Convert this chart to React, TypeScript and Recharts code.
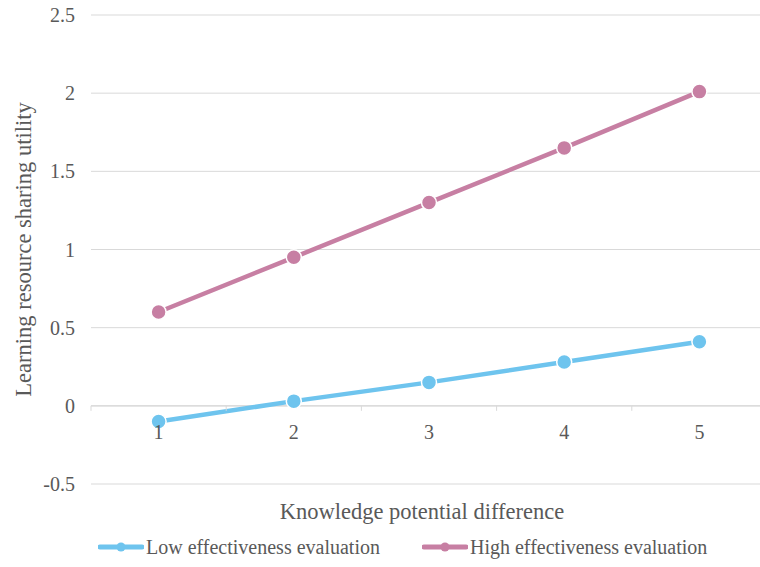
import React from "react";
import { LineChart, Line, XAxis, YAxis, CartesianGrid, Legend, ReferenceLine } from "recharts";

const categories = ["1", "2", "3", "4", "5"];
const lowValues = [-0.1, 0.03, 0.15, 0.28, 0.41];
const highValues = [0.6, 0.95, 1.3, 1.65, 2.01];
const yTicks = [-0.5, 0, 0.5, 1, 1.5, 2, 2.5];
const seriesNames = ["Low effectiveness evaluation", "High effectiveness evaluation"];
const xTitle = "Knowledge potential difference";
const yTitle = "Learning resource sharing utility";

const data = categories.map((c, i) => ({ cat: c, low: lowValues[i], high: highValues[i] }));

const BLUE = "#6EC4EE";
const PINK = "#C77FA3";
const TEXT = "#595959";
const GRID = "#D9D9D9";
const FONT = "'Liberation Serif', 'Times New Roman', serif";

const CHART_W = 780;
const CHART_H = 567;
const MARGIN = { top: 15, right: 13, left: 0, bottom: 0 };
const Y_W = 91;
const X_H = 43;
const LEG_H = 40;
const PLOT_H = CHART_H - MARGIN.top - X_H - LEG_H;
const PLOT_W = CHART_W - MARGIN.left - MARGIN.right - Y_W;
const Y_MIN = -0.5;
const Y_MAX = 2.5;
const BAND = PLOT_W / categories.length;
// distance from plot bottom up to the value 0
const ZERO_UP = (PLOT_H * (0 - Y_MIN)) / (Y_MAX - Y_MIN);

const XTick = (props: any) => {
  const { x, y, payload, index } = props;
  const y0 = y - ZERO_UP;
  return (
    <g>
      <line x1={x - BAND / 2} x2={x - BAND / 2} y1={y0} y2={y0 + 5} stroke={GRID} strokeWidth={1} />
      {index === categories.length - 1 && (
        <line x1={x + BAND / 2} x2={x + BAND / 2} y1={y0} y2={y0 + 5} stroke={GRID} strokeWidth={1} />
      )}
      <text x={x} y={y0 + 26} textAnchor="middle" dominantBaseline="central" fill={TEXT} fontSize={20} fontFamily={FONT}>
        {payload.value}
      </text>
    </g>
  );
};

const LegendIcon = ({ color }: { color: string }) => (
  <svg width={46} height={14} style={{ display: "block" }}>
    <line x1={2} x2={44} y1={7} y2={7} stroke={color} strokeWidth={5} strokeLinecap="round" />
    <circle cx={23} cy={7} r={4.5} fill={color} />
  </svg>
);

const LegendContent = () => {
  const colors = [BLUE, PINK];
  return (
    <div style={{ display: "flex", alignItems: "center", height: LEG_H, fontFamily: FONT, fontSize: 20, color: TEXT }}>
      {seriesNames.map((n, i) => (
        <div key={n} style={{ display: "flex", alignItems: "center", marginRight: 42 }}>
          <LegendIcon color={colors[i]} />
          <span style={{ marginLeft: 2, whiteSpace: "nowrap" }}>{n}</span>
        </div>
      ))}
    </div>
  );
};

const dot = (color: string) => ({ r: 7.5, fill: color, stroke: "#FFFFFF", strokeWidth: 1.5 });

export default function App() {
  return (
    <div style={{ position: "absolute", left: 0, top: 0, width: 760, height: 567, overflow: "hidden", background: "#fff" }}>
      <LineChart width={CHART_W} height={CHART_H} data={data} margin={MARGIN}>
        <CartesianGrid horizontal vertical={false} stroke={GRID} strokeWidth={1} />
        <ReferenceLine y={0} stroke={GRID} strokeWidth={1.2} />
        <XAxis
          dataKey="cat"
          height={X_H}
          axisLine={false}
          tickLine={false}
          tickSize={0}
          tickMargin={0}
          interval={0}
          padding={{ left: BAND / 2, right: BAND / 2 }}
          tick={<XTick />}
          label={(props: any) => {
            const vb = props.viewBox;
            return (
              <text
                x={vb.x + vb.width / 2 - 7}
                y={vb.y + 27}
                textAnchor="middle"
                dominantBaseline="central"
                fill={TEXT}
                fontSize={22.5}
                fontFamily={FONT}
              >
                {xTitle}
              </text>
            );
          }}
        />
        <YAxis
          width={Y_W}
          domain={[Y_MIN, Y_MAX]}
          ticks={yTicks}
          type="number"
          axisLine={false}
          tickLine={false}
          tickSize={0}
          tickMargin={16}
          tick={{ fill: TEXT, fontSize: 20, fontFamily: FONT }}
          label={(props: any) => {
            const vb = props.viewBox;
            const cx = 23;
            const cy = vb.y + vb.height / 2;
            return (
              <text
                x={cx}
                y={cy}
                transform={`rotate(-90, ${cx}, ${cy})`}
                textAnchor="middle"
                dominantBaseline="central"
                fill={TEXT}
                fontSize={22.5}
                fontFamily={FONT}
              >
                {yTitle}
              </text>
            );
          }}
        />
        <Legend
          verticalAlign="bottom"
          height={LEG_H}
          content={<LegendContent />}
          wrapperStyle={{ left: 98, width: 660, bottom: 0, height: LEG_H }}
        />
        <Line
          type="linear"
          dataKey="low"
          name={seriesNames[0]}
          stroke={BLUE}
          strokeWidth={4.5}
          dot={dot(BLUE)}
          activeDot={false}
          isAnimationActive={false}
        />
        <Line
          type="linear"
          dataKey="high"
          name={seriesNames[1]}
          stroke={PINK}
          strokeWidth={4.5}
          dot={dot(PINK)}
          activeDot={false}
          isAnimationActive={false}
        />
      </LineChart>
    </div>
  );
}
